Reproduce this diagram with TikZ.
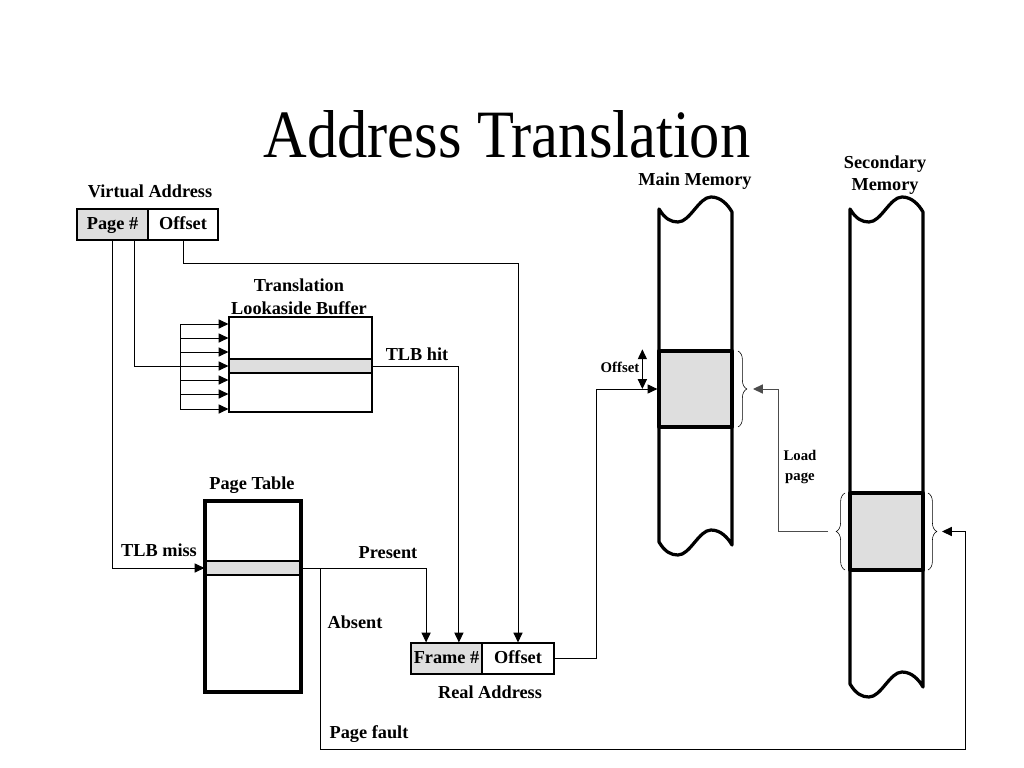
\documentclass[tikz,border=0pt]{standalone}
\usepackage{fontspec}
\setmainfont{Liberation Serif}
\usetikzlibrary{arrows.meta,decorations.pathreplacing,positioning}
\definecolor{pagegrey}{gray}{0.87}
\tikzset{>={Triangle[length=7pt,width=6.5pt]},
  every node/.style={font=\fontsize{13}{16}\selectfont\bfseries},
  cell/.style={draw,line width=0.8pt,minimum height=0.775cm,inner sep=0pt,text height=9pt,text depth=2.5pt},
  row/.style={draw,line width=0.8pt,fill=pagegrey,minimum height=0.35cm,inner sep=0pt},
  mem/.style={line width=2.3pt,line join=round},
  brc/.style={decorate,decoration={brace,amplitude=0.22cm},line width=0.4pt},
  small/.style={font=\fontsize{10.5}{14}\selectfont\bfseries}}

\begin{document}
\begin{tikzpicture}[x=0.025cm,y=-0.025cm,line width=0.7pt]
\useasboundingbox (0,0) rectangle (1024,768);
\node[anchor=base,yscale=1.12,transform shape,font=\fontsize{43}{50}\selectfont\mdseries] (title) at (507,157) {Address Translation};

% virtual address
\node[cell,fill=pagegrey,minimum width=1.775cm] (pg) at (112.5,224.5) {Page \#};
\node[cell,minimum width=1.75cm] (off) at (183,224.5) {Offset};
\node (valab) at (150,191) {Virtual Address};

% TLB
\node[draw,line width=0.8pt,minimum width=3.575cm,minimum height=2.375cm] (tlb) at (300.5,364.5) {};
\node[row,minimum width=3.575cm] (tlbrow) at (300.5,366) {};
\node[align=center] (tlblab) at (299,297) {Translation\\Lookaside Buffer};
\draw (180,324) -- (180,409);
\foreach \y in {324,338,352,380,394,409}
  \draw[->] (180,\y) -- (180,\y -| tlb.west);

% page table
\node[row,minimum width=2.4cm] (ptrow) at (253,568) {};
\node[draw,line width=2.4pt,minimum width=2.4cm,minimum height=4.775cm] (pt) at (253,596.5) {};
\node (ptlab) at (252,485) {Page Table};

% real address
\node[cell,fill=pagegrey,minimum width=1.775cm] (rfr) at (446.5,658.5) {Frame \#};
\node[cell,minimum width=1.8cm] (roff) at (518,658.5) {Offset};
\node (ralab) at (490,692) {Real Address};

% main and secondary memory
\foreach \dx/\h in {0/334,191/476}
  \draw[mem,shift={(\dx,0)}] (659,209) .. controls (665,219) and (671,222) .. (678,222)
    .. controls (690,222) and (699,197) .. (711,197) .. controls (721,197) and (728,205) .. (732,212)
    -- (732,211+\h) .. controls (728,204+\h) and (721,196+\h) .. (711,196+\h)
    .. controls (699,196+\h) and (690,221+\h) .. (678,221+\h)
    .. controls (671,221+\h) and (665,218+\h) .. (659,208+\h) -- cycle;
\node[draw,mem,fill=pagegrey,minimum width=1.825cm,minimum height=1.9cm,inner sep=0pt] (mmpage) at (695.5,389) {};
\node[draw,mem,fill=pagegrey,minimum width=1.825cm,minimum height=1.925cm,inner sep=0pt] (smpage) at (886.5,531.5) {};
\node (mmlab) at (695,181) {Main Memory};
\node[align=center] (smlab) at (885,175) {Secondary\\Memory};

\draw[brc] (738,351) -- (738,427);
\draw[brc] (845,570) -- (845,493);
\draw[brc] (928,493) -- (928,570);
\coordinate (mmbr) at (753,389);
\coordinate (smbrl) at (828,531.5);
\coordinate (smbrr) at (942,531.5);

% connectors
\draw[->] (pg.south) |- (ptrow.west);
\draw[->] ([xshift=-0.35cm]pg.south east) |- (tlbrow.west);
\draw[->] (off.south) -- ++(0,23) -| (roff.north);
\draw[->] (tlbrow.east) -| ([xshift=0.31cm]rfr.north);
\draw[->] (ptrow.east) -| ([xshift=-0.51cm]rfr.north);
\draw[->] (roff.east) -- ++(42,0) |- (mmpage.west);
\draw[<->] ([xshift=-0.375cm]mmpage.north west) -- ([xshift=-0.375cm]mmpage.west);
\draw[->,black!70] (smbrl) -- ++(-50,0) |- (mmbr);
\coordinate (split) at (320,568);
\coordinate (pfc) at (965,749);
\draw[->] (split) |- (pfc) |- (smbrr);

% labels
\node (hit) at (417,354) {TLB hit};
\node (miss) at (159,550) {TLB miss};
\node (pres) at (388,553) {Present};
\node (abs) at (355,622) {Absent};
\node (pf) at (369,734) {Page fault};
\node[small] (offlab) at (620,367) {Offset};
\node[small,align=center] (load) at (800,467) {Load\\page};
\end{tikzpicture}
\end{document}
